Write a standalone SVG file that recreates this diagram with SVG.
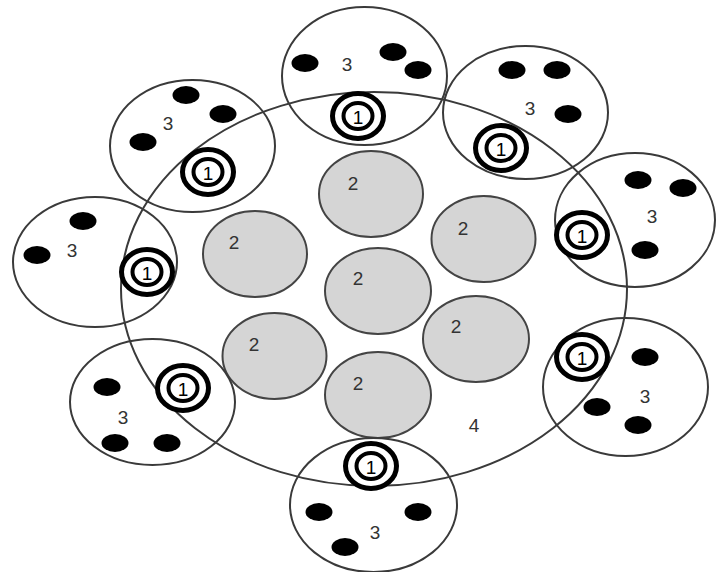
<svg xmlns="http://www.w3.org/2000/svg" width="717" height="572" viewBox="0 0 717 572">
<defs>
<style>
.ring{fill:none;stroke:#3a3a3a;stroke-width:2}
.cell{fill:#d5d5d5;stroke:#444;stroke-width:2}
.dot{fill:#000}
.lbl{font-family:"Liberation Sans",Arial,sans-serif;font-size:19px;fill:#333;text-anchor:middle;dominant-baseline:central}
.mo{fill:#fff;stroke:#000;stroke-width:5}
.mi{fill:#fff;stroke:#000;stroke-width:4}
.ml{font-family:"Liberation Sans",Arial,sans-serif;font-size:19px;fill:#000;text-anchor:middle;dominant-baseline:central}
</style>
<g id="marker">
<ellipse class="mo" cx="0" cy="0" rx="25.5" ry="22.5"/>
<ellipse class="mi" cx="0" cy="0" rx="14.5" ry="13"/>
<text class="ml" x="0" y="1">1</text>
</g>
</defs>
<rect width="717" height="572" fill="#fff"/>
<g id="region4">
<ellipse class="ring" cx="374" cy="289" rx="253" ry="197"/>
<text class="lbl" x="474" y="425">4</text>
</g>
<g id="cells">
<g id="cell-top"><ellipse class="cell" cx="371" cy="194" rx="52" ry="43"/><text class="lbl" x="353" y="183">2</text></g>
<g id="cell-ul"><ellipse class="cell" cx="255" cy="254" rx="52" ry="43"/><text class="lbl" x="234" y="242">2</text></g>
<g id="cell-ur"><ellipse class="cell" cx="483.5" cy="239" rx="52" ry="43"/><text class="lbl" x="463" y="228">2</text></g>
<g id="cell-mid"><ellipse class="cell" cx="378" cy="291" rx="53" ry="43"/><text class="lbl" x="358" y="278">2</text></g>
<g id="cell-lr"><ellipse class="cell" cx="476" cy="339" rx="53" ry="43"/><text class="lbl" x="456" y="326">2</text></g>
<g id="cell-ll"><ellipse class="cell" cx="274.5" cy="356" rx="52" ry="43"/><text class="lbl" x="254" y="344">2</text></g>
<g id="cell-bot"><ellipse class="cell" cx="378" cy="395" rx="53" ry="43"/><text class="lbl" x="358" y="383">2</text></g>
</g>
<g id="satellites">
<g id="sat-top">
<ellipse class="ring" cx="364.5" cy="76" rx="82.5" ry="69"/>
<ellipse class="dot" cx="305" cy="63" rx="13.5" ry="9"/>
<ellipse class="dot" cx="393" cy="52" rx="13.5" ry="9"/>
<ellipse class="dot" cx="418" cy="70" rx="13.5" ry="9"/>
<text class="lbl" x="347" y="64">3</text>
</g>
<g id="sat-topright">
<ellipse class="ring" cx="525.5" cy="112.5" rx="82.5" ry="66.5"/>
<ellipse class="dot" cx="512" cy="70" rx="13.5" ry="9"/>
<ellipse class="dot" cx="557" cy="70" rx="13.5" ry="9"/>
<ellipse class="dot" cx="568" cy="114" rx="13.5" ry="9"/>
<text class="lbl" x="530" y="108">3</text>
</g>
<g id="sat-right">
<ellipse class="ring" cx="635" cy="220" rx="80" ry="67"/>
<ellipse class="dot" cx="638" cy="180" rx="13.5" ry="9"/>
<ellipse class="dot" cx="683" cy="188" rx="13.5" ry="9"/>
<ellipse class="dot" cx="645" cy="250" rx="13.5" ry="9"/>
<text class="lbl" x="652" y="216">3</text>
</g>
<g id="sat-lowright">
<ellipse class="ring" cx="625.5" cy="387" rx="82.5" ry="69"/>
<ellipse class="dot" cx="645" cy="357" rx="13.5" ry="9"/>
<ellipse class="dot" cx="597" cy="407" rx="13.5" ry="9"/>
<ellipse class="dot" cx="638" cy="425" rx="13.5" ry="9"/>
<text class="lbl" x="645" y="396">3</text>
</g>
<g id="sat-bottom">
<ellipse class="ring" cx="373.5" cy="505" rx="83.5" ry="67"/>
<ellipse class="dot" cx="319" cy="512" rx="13.5" ry="9"/>
<ellipse class="dot" cx="418" cy="512" rx="13.5" ry="9"/>
<ellipse class="dot" cx="345" cy="547" rx="13.5" ry="9"/>
<text class="lbl" x="375" y="532">3</text>
</g>
<g id="sat-lowleft">
<ellipse class="ring" cx="152.5" cy="402" rx="82.5" ry="63"/>
<ellipse class="dot" cx="107" cy="387" rx="13.5" ry="9"/>
<ellipse class="dot" cx="115" cy="443" rx="13.5" ry="9"/>
<ellipse class="dot" cx="167" cy="443" rx="13.5" ry="9"/>
<text class="lbl" x="123" y="417">3</text>
</g>
<g id="sat-left">
<ellipse class="ring" cx="95" cy="262" rx="82" ry="65"/>
<ellipse class="dot" cx="83" cy="221" rx="13.5" ry="9"/>
<ellipse class="dot" cx="37" cy="255" rx="13.5" ry="9"/>
<text class="lbl" x="72" y="250">3</text>
</g>
<g id="sat-topleft">
<ellipse class="ring" cx="192.5" cy="146" rx="82.5" ry="66"/>
<ellipse class="dot" cx="186" cy="95" rx="13.5" ry="9"/>
<ellipse class="dot" cx="223" cy="114" rx="13.5" ry="9"/>
<ellipse class="dot" cx="143" cy="142" rx="13.5" ry="9"/>
<text class="lbl" x="168" y="123">3</text>
</g>
</g>
<g id="markers">
<use id="m-top" href="#marker" x="358" y="116"/>
<use id="m-topright" href="#marker" x="501" y="148"/>
<use id="m-right" href="#marker" x="582" y="235"/>
<use id="m-lowright" href="#marker" x="582" y="357"/>
<use id="m-bottom" href="#marker" x="371" y="466"/>
<use id="m-lowleft" href="#marker" x="183" y="388"/>
<use id="m-left" href="#marker" x="147" y="272"/>
<use id="m-topleft" href="#marker" x="208" y="172"/>
</g>
<g id="connectors"/>
</svg>
